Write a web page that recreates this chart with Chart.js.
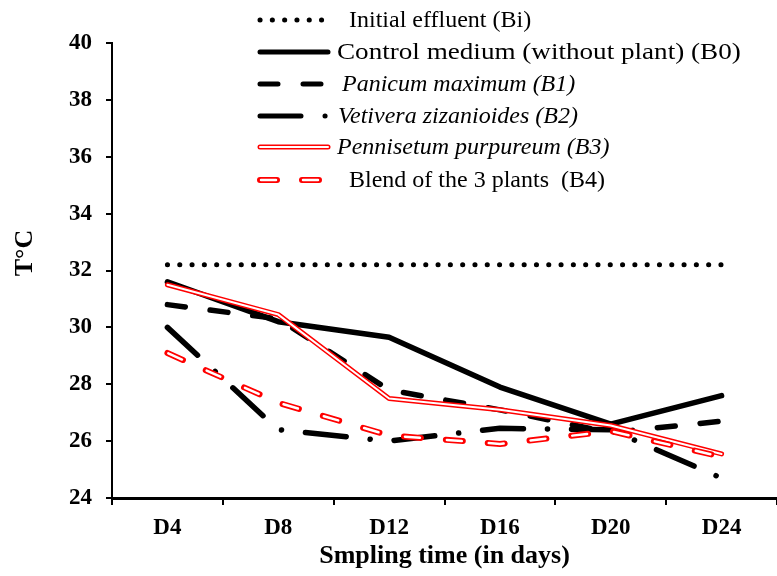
<!DOCTYPE html>
<html>
<head>
<meta charset="utf-8">
<script src="https://cdn.jsdelivr.net/npm/chart.js@4"></script>
<style>
  html, body { margin: 0; padding: 0; background: #fff; }
  #wrap { width: 777px; height: 576px; }
</style>
</head>
<body>
<div id="wrap"><canvas id="chart-line" width="777" height="576"></canvas></div>
<script>
var days = ['D4', 'D8', 'D12', 'D16', 'D20', 'D24'];
var initialBi = [32.2, 32.2, 32.2, 32.2, 32.2, 32.2];
var controlB0 = [31.6, 30.2, 29.65, 27.9, 26.6, 27.6];
var panicumB1 = [30.8, 30.3, 27.8, 27.1, 26.3, 26.7];
var vetiveraB2 = [30.0, 26.4, 26.0, 26.45, 26.4, 24.7];
var pennisetumB3 = [31.5, 30.45, 27.5, 27.1, 26.55, 25.55];
var blendB4 = [29.1, 27.35, 26.2, 25.9, 26.35, 25.45];
var yTicks = [24, 26, 28, 30, 32, 34, 36, 38, 40];

var serif = "'Liberation Serif', 'Times New Roman', serif";

// one entry per legend row; strokes drawn in order (outline then inner)
var legendRows = [
  { text: 'Initial effluent (Bi)', italic: false, tx: 349, y: 20, sx: 1,
    strokes: [{ color: '#000', width: 5, dash: [0.1, 12.2], cap: 'round' }] },
  { text: 'Control medium (without plant) (B0)', italic: false, tx: 337, y: 52, sx: 1.13,
    strokes: [{ color: '#000', width: 5, dash: [], cap: 'round' }] },
  { text: 'Panicum maximum (B1)', italic: true, tx: 342, y: 84, sx: 1,
    strokes: [{ color: '#000', width: 5, dash: [18, 25], cap: 'round' }] },
  { text: 'Vetivera zizanioides (B2)', italic: true, tx: 338, y: 116, sx: 1,
    strokes: [{ color: '#000', width: 5, dash: [41, 24, 0.1, 24], cap: 'round' }] },
  { text: 'Pennisetum purpureum (B3)', italic: true, tx: 337, y: 147, sx: 1,
    strokes: [{ color: '#ff0000', width: 5, dash: [], cap: 'round' },
              { color: '#fff', width: 2, dash: [], cap: 'round' }] },
  { text: 'Blend of the 3 plants  (B4)', italic: false, tx: 349, y: 180, sx: 1,
    strokes: [{ color: '#ff0000', width: 6, dash: [17, 25], cap: 'round' },
              { color: '#fff', width: 2.5, dash: [15, 27], cap: 'round', offset: -1 }] }
];

var legendPlugin = {
  id: 'customLegend',
  afterDraw: function(chart) {
    var c = chart.ctx;
    c.save();
    legendRows.forEach(function(row) {
      row.strokes.forEach(function(s) {
        c.beginPath();
        c.strokeStyle = s.color;
        c.lineWidth = s.width;
        c.lineCap = s.cap;
        c.setLineDash(s.dash);
        c.lineDashOffset = s.offset || 0;
        c.moveTo(260, row.y);
        c.lineTo(328, row.y);
        c.stroke();
      });
      c.setLineDash([]);
      c.save();
      c.translate(row.tx, row.y);
      c.scale(row.sx, 1);
      c.fillStyle = '#000';
      c.font = (row.italic ? 'italic ' : '') + '24px ' + serif;
      c.textBaseline = 'middle';
      c.textAlign = 'left';
      c.fillText(row.text, 0, 1);
      c.restore();
    });

    // y axis title, sits a bit above the axis middle in the original
    c.save();
    c.translate(25, 253);
    c.rotate(-Math.PI / 2);
    c.fillStyle = '#000';
    c.font = 'bold 26px ' + serif;
    c.textAlign = 'center';
    c.textBaseline = 'middle';
    c.fillText('T°C', 0, 0);
    c.restore();
    c.restore();
  }
};

function line(data, color, width, dash, order, extra) {
  var ds = {
    data: data,
    borderColor: color,
    borderWidth: width,
    borderDash: dash,
    borderCapStyle: 'round',
    borderJoinStyle: 'round',
    pointRadius: 0,
    tension: 0,
    fill: false,
    order: order
  };
  for (var k in extra) ds[k] = extra[k];
  return ds;
}

var ctx1 = document.getElementById('chart-line').getContext('2d');

new Chart(ctx1, {
  type: 'line',
  data: {
    labels: days,
    datasets: [
      line(initialBi, '#000', 5, [0.1, 12.2], 10),
      line(controlB0, '#000', 5.5, [], 10),
      line(panicumB1, '#000', 5.5, [18, 25], 10),
      line(vetiveraB2, '#000', 5.5, [41, 24, 0.1, 24], 10),
      line(pennisetumB3, '#ff0000', 5, [], 4),
      line(pennisetumB3, '#ffffff', 2, [], 3),
      line(blendB4, '#ff0000', 6, [17, 25], 2),
      line(blendB4, '#ffffff', 2.5, [15, 27], 1, { borderDashOffset: -1 })
    ]
  },
  plugins: [legendPlugin],
  options: {
    responsive: false,
    animation: false,
    layout: { padding: { top: 43, right: 0, left: 0, bottom: 0 } },
    plugins: {
      legend: { display: false },
      tooltip: { enabled: false }
    },
    scales: {
      x: {
        offset: true,
        grid: {
          display: true,
          offset: true,
          drawOnChartArea: false,
          drawTicks: true,
          tickLength: 7,
          color: '#000',
          lineWidth: 2
        },
        border: { display: true, color: '#000', width: 3 },
        ticks: {
          color: '#000',
          padding: 9,
          font: { family: serif, size: 23, weight: 'bold' }
        },
        title: {
          display: true,
          text: 'Smpling time (in days)',
          color: '#000',
          padding: { top: 2, bottom: 4 },
          font: { family: serif, size: 26, weight: 'bold' }
        },
        afterFit: function(scale) { scale.height = 78; }
      },
      y: {
        min: 24,
        max: 40,
        afterBuildTicks: function(scale) {
          scale.ticks = yTicks.map(function(v) { return { value: v }; });
        },
        grid: {
          display: true,
          drawOnChartArea: false,
          drawTicks: true,
          tickLength: 6,
          color: '#000',
          lineWidth: 2
        },
        border: { display: true, color: '#000', width: 2 },
        ticks: {
          color: '#000',
          padding: 14,
          font: { family: serif, size: 23, weight: 'bold' }
        },
        afterFit: function(scale) { scale.width = 112; }
      }
    }
  }
});
</script>
</body>
</html>
